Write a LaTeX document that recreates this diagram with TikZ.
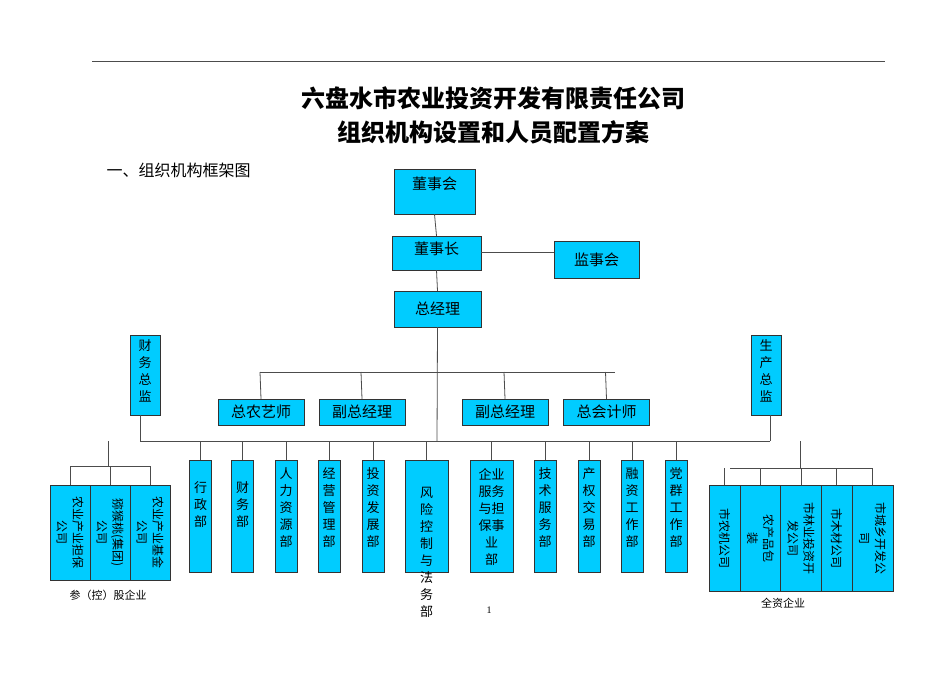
\documentclass[tikz,border=0pt]{standalone}
\usepackage{fontspec}
\newfontfamily\cjk{Noto Sans CJK SC}
\setmainfont{Liberation Serif}
\begin{document}
\begin{tikzpicture}[x=1pt,y=-1pt,
  box/.style={draw=black!80,fill=cyan!80!blue!60,fill=boxc,inner sep=0pt},
  ln/.style={draw=black!70,line width=0.8pt},
  vt/.style={font=\cjk\fontsize{13}{17}\selectfont,align=center,inner sep=0pt},
  ht/.style={font=\cjk\fontsize{15}{18}\selectfont,inner sep=0pt}]
\definecolor{boxc}{HTML}{00CCFF}
\useasboundingbox (0,0) rectangle (950,672);
\draw[ln] (92,61) -- (885,61);
\node[font=\cjk\bfseries\fontsize{24}{28}\selectfont] (t1) at (493,98) {六盘水市农业投资开发有限责任公司};
\node[font=\cjk\bfseries\fontsize{24}{28}\selectfont] (t2) at (493,132) {组织机构设置和人员配置方案};
\node[font=\cjk\fontsize{16}{18}\selectfont,anchor=west] (t3) at (103,170) {一、组织机构框架图};
% top
\node[box,minimum width=81,minimum height=45] (dsh) at (434.5,191.5) {};
\node[ht,anchor=north] at (dsh.north) [yshift=-8] {董事会};
\node[box,minimum width=89,minimum height=34] (dsz) at (436.5,253) {};
\node[ht,anchor=north] at (dsz.north) [yshift=-6] {董事长};
\node[box,minimum width=85,minimum height=37] (jsh) at (596.5,259.5) {};
\node[ht] at (jsh) {监事会};
\node[box,minimum width=87,minimum height=36] (zjl) at (437.5,309) {};
\node[ht] at (zjl) {总经理};
\draw[ln] (dsh.south) -- (dsz.north);
\draw[ln] (dsz.south) -- (zjl.north);
\draw[ln] (dsz.east |- 0,252) -- (jsh.west |- 0,252);
% second level
\foreach \n/\x/\t in {a/261/总农艺师,b/362/副总经理,c/505/副总经理,d/606.5/总会计师}{
  \node[box,minimum width=86,minimum height=26] (\n) at (\x,412) {};
  \node[ht] at (\n) {\t};
  \draw[ln] (\x-1,372) -- (\n.north);
}
\draw[ln] (260,372) -- (615,372);
\draw[ln] (zjl.south) -- (437,441);
\node[box,minimum width=30,minimum height=80] (cw) at (145,375) {};
\node[vt,anchor=north] at (cw.north) [yshift=-5] {财\\务\\总\\监};
\node[box,minimum width=30,minimum height=80] (sc) at (766,375) {};
\node[vt,anchor=north] at (sc.north) [yshift=-5] {生\\产\\总\\监};
\draw[ln] (140,441) -- (770,441);
\draw[ln] (140,415) -- (140,441);
\draw[ln] (770,415) -- (770,441);
% departments
\foreach \n/\x/\w/\t/\o in {
  e1/200.5/22/行\\政\\部/22,
  e2/242.5/22/财\\务\\部/22,
  e3/286/22/人\\力\\资\\源\\部/8,
  e4/329/22/经\\营\\管\\理\\部/8,
  e5/373/22/投\\资\\发\\展\\部/8,
  e6/426.5/43/风\\险\\控\\制\\与\\法\\务\\部/27,
  e7/491.5/43/企业\\服务\\与担\\保事\\业\\部/8,
  e8/545/22/技\\术\\服\\务\\部/8,
  e9/589/22/产\\权\\交\\易\\部/8,
  e10/632/22/融\\资\\工\\作\\部/8,
  e11/676/22/党\\群\\工\\作\\部/8}{
  \node[box,minimum width=\w,minimum height=112] (\n) at (\x,516) {};
  \node[vt,anchor=north] at ([yshift=-\o]\n.north) {\t};
  \draw[ln] (\x,441) -- (\n.north);
}
% left group
\draw[ln] (108,441) -- (108,466);
\draw[ln] (70,466) -- (150,466);
\foreach \n/\x/\t in {l1/70/农业产业担保\\公司,l2/110/猕猴桃(集团)\\公司,l3/150/农业产业基金\\公司}{
  \node[box,minimum width=40,minimum height=95] (\n) at (\x,532.5) {};
  \draw[ln] (\x,466) -- (\n.north);
  \node[vt,rotate=-90,font=\cjk\fontsize{12}{16}\selectfont] at (\n) {\t};
}
\node[font=\cjk\fontsize{11}{13}\selectfont] (lg) at (108,595) {参（控）股企业};
% right group
\draw[ln] (800,441) -- (800,468);
\draw[ln] (730,468) -- (872,468);
\foreach \n/\x/\w/\t in {r1/724.5/31/市农机公司,r2/760.5/41/农产品包\\装,r3/801/41/市林业投资开\\发公司,r4/836.5/31/市木材公司,r5/872.5/41/市城乡开发公\\司}{
  \node[box,minimum width=\w,minimum height=106] (\n) at (\x,538) {};
  \draw[ln] (\x,468) -- (\n.north);
  \node[vt,rotate=-90,font=\cjk\fontsize{12}{16}\selectfont] at (\n) {\t};
}
\node[font=\cjk\fontsize{11}{13}\selectfont] (rg) at (783,603) {全资企业};
\node[font=\fontsize{10}{12}\selectfont] (pg) at (489,610) {1};
\end{tikzpicture}
\end{document}
